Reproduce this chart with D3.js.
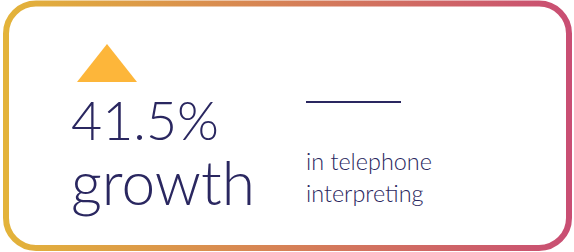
<!DOCTYPE html>
<html><head><meta charset="utf-8">
<script src="https://cdn.jsdelivr.net/npm/d3@7"></script>
<style>html,body{margin:0;padding:0;background:#fff;}svg{display:block;}</style>
</head><body>
<svg id="c" width="574" height="252"></svg>
<script>
const growthValue = [41.5];
const headlineLines = ["41.5%", "growth"];
const captionLines = ["in telephone", "interpreting"];
const gradientStops = [["0%", "#E3B33A"], ["100%", "#C94E73"]];

const svg = d3.select("#c");
const defs = svg.append("defs");
const lg = defs.append("linearGradient").attr("id", "g").attr("x1", "0%").attr("x2", "100%").attr("y1", "0%").attr("y2", "0%");
lg.selectAll("stop").data(gradientStops).enter().append("stop").attr("offset", d => d[0]).attr("stop-color", d => d[1]);

svg.append("rect").attr("x", 6).attr("y", 3.5).attr("width", 563).attr("height", 244.5)
  .attr("rx", 30).attr("ry", 30).attr("fill", "#fff").attr("stroke", "url(#g)").attr("stroke-width", 6);

svg.append("path").attr("d", d3.line()([[77, 82], [137, 82], [107, 44]]) + "Z").attr("fill", "#FDB63A");

const navy = "#2A2760";
const font = "Lato, 'Noto Sans', sans-serif";

function fitSize(sel, w) {
  const bb = sel.node().getBBox();
  const fs = parseFloat(sel.attr("font-size"));
  return fs * w / bb.width;
}

const headline = svg.selectAll("text.h").data(headlineLines).enter().append("text").attr("class", "h")
  .attr("x", 71).attr("y", (d, i) => i === 0 ? 140 : 205)
  .attr("font-family", font).attr("font-weight", 300).attr("font-size", 50).attr("fill", navy).text(d => d);
const h0 = d3.select(headline.nodes()[0]);
h0.attr("font-size", fitSize(h0, 148));
const h1 = d3.select(headline.nodes()[1]);
h1.attr("font-size", fitSize(h1, 184));

svg.append("line").attr("x1", 306).attr("x2", 401).attr("y1", 102).attr("y2", 102).attr("stroke", navy).attr("stroke-width", 2);

const cap = svg.selectAll("text.c").data(captionLines).enter().append("text").attr("class", "c")
  .attr("x", 306).attr("y", (d, i) => i === 0 ? 170 : 202)
  .attr("font-family", font).attr("font-weight", 300).attr("font-size", 19).attr("fill", navy).text(d => d);
const cs = fitSize(d3.select(cap.nodes()[0]), 126);
cap.attr("font-size", cs);
</script>
</body></html>
